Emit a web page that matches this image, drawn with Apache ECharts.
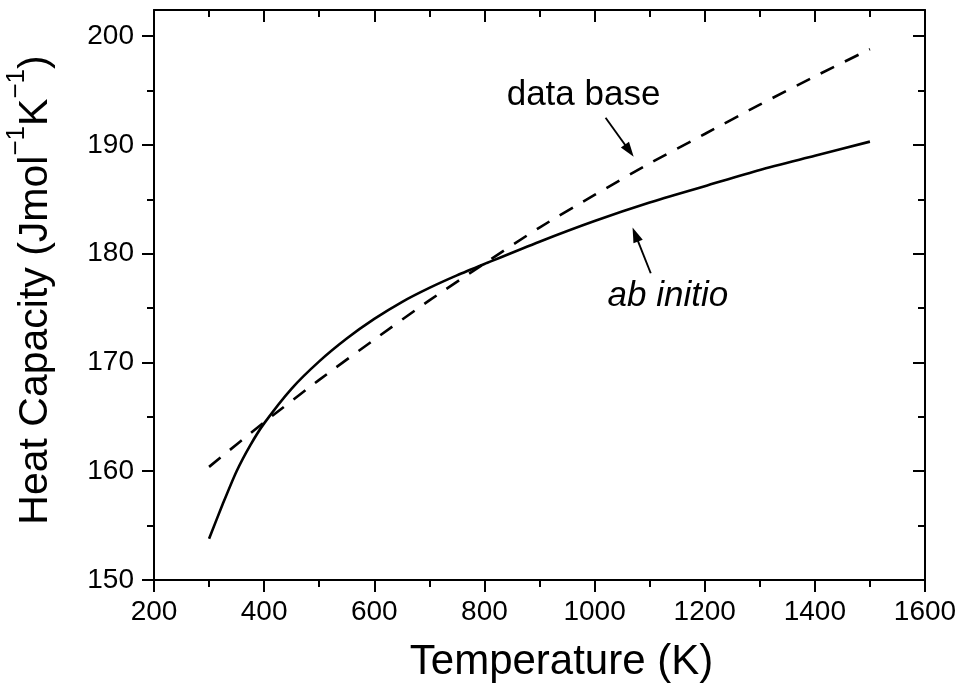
<!DOCTYPE html>
<html>
<head>
<meta charset="utf-8">
<script src="https://cdn.jsdelivr.net/npm/echarts@6/dist/echarts.min.js"></script>
<style>
  html, body { margin: 0; padding: 0; background: #fff; }
  #chart { width: 959px; height: 685px; }
</style>
</head>
<body>
<div id="chart"></div>
<script>
// ---- data ----
const abInitioT = [300, 325, 350, 375, 400, 450, 500, 550, 600, 650, 700, 750, 800, 900, 1000, 1100, 1200, 1300, 1400, 1500];
const abInitioCp = [153.8, 157.0, 160.0, 162.4, 164.4, 167.6, 170.1, 172.2, 174.0, 175.55, 176.85, 178.0, 179.05, 181.1, 183.0, 184.7, 186.2, 187.7, 189.0, 190.3];
const dataBaseT = [300, 400, 500, 600, 700, 800, 900, 1000, 1100, 1200, 1300, 1400, 1500];
const dataBaseCp = [160.4, 164.5, 168.4, 172.1, 175.7, 179.1, 182.4, 185.4, 188.3, 191.0, 193.7, 196.3, 198.8];

const xMajorTicks = [200, 400, 600, 800, 1000, 1200, 1400, 1600];
const xMinorTicks = [300, 500, 700, 900, 1100, 1300, 1500];
const yMajorTicks = [150, 160, 170, 180, 190, 200];
const yMinorTicks = [155, 165, 175, 185, 195];

const xRange = [200, 1600];
const yRange = [150, 202.4];

// annotations (data coordinates)
const labelDataBase = { text: 'data base', at: [980, 194.6] };
const labelAbInitio = { text: 'ab initio', at: [1133, 176.1] };
const arrowDataBase = { from: [1020, 192.5], to: [1071, 188.9] };
const arrowAbInitio = { from: [1102, 178.2], to: [1069, 182.4] };

const FONT = '"Liberation Sans", Arial, Helvetica, sans-serif';
const chart = echarts.init(document.getElementById('chart'), null, { renderer: 'canvas' });

function axis(kind, position, ticks, len, inside, showLine, labels) {
  const a = {
    type: 'value',
    position: position,
    min: kind === 'x' ? xRange[0] : yRange[0],
    max: kind === 'x' ? xRange[1] : yRange[1],
    splitLine: { show: false },
    axisLine: { show: showLine, onZero: false, lineStyle: { color: '#000', width: 2 } },
    axisTick: { show: true, inside: inside, length: len, customValues: ticks, lineStyle: { color: '#000', width: 2 } },
    axisLabel: { show: false }
  };
  if (labels) {
    a.axisLabel = {
      show: true, customValues: labels, color: '#000', fontSize: 28, fontFamily: FONT,
      margin: kind === 'x' ? 18 : 20,
      formatter: function (v) { return String(v); }
    };
  }
  return a;
}

const xAxes = [
  axis('x', 'bottom', xMajorTicks, 12, false, true, xMajorTicks),
  axis('x', 'bottom', xMinorTicks, 7, false, false, null),
  axis('x', 'top', xMajorTicks, 12, true, true, null),
  axis('x', 'top', xMinorTicks, 7, true, false, null)
];
xAxes[0].name = 'Temperature (K)';
xAxes[0].nameLocation = 'middle';
xAxes[0].nameGap = 61;
xAxes[0].nameTextStyle = { color: '#000', fontSize: 42, fontFamily: FONT, padding: [0, 0, 0, 44] };

const yAxes = [
  axis('y', 'left', yMajorTicks, 12, false, true, yMajorTicks),
  axis('y', 'left', yMinorTicks, 7, false, false, null),
  axis('y', 'right', yMajorTicks, 12, true, true, null),
  axis('y', 'right', yMinorTicks, 7, true, false, null)
];
yAxes[0].name = '{a|Heat Capacity (Jmol}{s|\u22121}{a|K}{s|\u22121}{a|)}';
yAxes[0].nameLocation = 'middle';
yAxes[0].nameRotate = 90;
yAxes[0].nameGap = 86;
yAxes[0].nameTextStyle = {
  color: '#000', fontFamily: FONT, fontSize: 41, padding: [0, 0, 0, 10],
  rich: {
    a: { color: '#000', fontFamily: FONT, fontSize: 41, lineHeight: 64 },
    s: { color: '#000', fontFamily: FONT, fontSize: 26, lineHeight: 26, verticalAlign: 'top' }
  }
};

chart.setOption({
  animation: false,
  backgroundColor: '#fff',
  grid: { left: 154, right: 34, top: 10, bottom: 105, containLabel: false, outerBoundsMode: 'none' },
  xAxis: xAxes,
  yAxis: yAxes,
  series: [
    {
      name: 'ab initio', type: 'line', xAxisIndex: 0, yAxisIndex: 0,
      data: abInitioT.map((t, i) => [t, abInitioCp[i]]),
      smooth: 0.25, showSymbol: false, symbol: 'none',
      lineStyle: { color: '#000', width: 2.6 }
    },
    {
      name: 'data base', type: 'line', xAxisIndex: 0, yAxisIndex: 0,
      data: dataBaseT.map((t, i) => [t, dataBaseCp[i]]),
      smooth: 0.25, showSymbol: false, symbol: 'none',
      lineStyle: { color: '#000', width: 2.6, type: [15, 12] }
    }
  ]
});

function px(p) { return chart.convertToPixel({ xAxisIndex: 0, yAxisIndex: 0 }, p); }
function arrowGraphics(a) {
  const s = px(a.from), e = px(a.to);
  const dx = e[0] - s[0], dy = e[1] - s[1];
  const L = Math.sqrt(dx * dx + dy * dy);
  const ux = dx / L, uy = dy / L;
  const head = 15, hw = 5;
  const bx = e[0] - ux * head, by = e[1] - uy * head;
  return [
    { type: 'line', shape: { x1: s[0], y1: s[1], x2: bx + ux * 2, y2: by + uy * 2 },
      style: { stroke: '#000', lineWidth: 1.9 }, z: 10 },
    { type: 'polygon', shape: { points: [[e[0], e[1]], [bx - uy * hw, by + ux * hw], [bx + uy * hw, by - ux * hw]] },
      style: { fill: '#000' }, z: 10 }
  ];
}
function labelGraphic(l, italic) {
  const p = px(l.at);
  return {
    type: 'text', x: p[0], y: p[1], z: 10,
    style: { text: l.text, fill: '#000', fontSize: 35, fontFamily: FONT, fontStyle: italic ? 'italic' : 'normal',
             align: 'center', verticalAlign: 'middle' }
  };
}
chart.setOption({
  graphic: [].concat(
    arrowGraphics(arrowDataBase),
    arrowGraphics(arrowAbInitio),
    [labelGraphic(labelDataBase, false), labelGraphic(labelAbInitio, true)]
  )
});
</script>
</body>
</html>
